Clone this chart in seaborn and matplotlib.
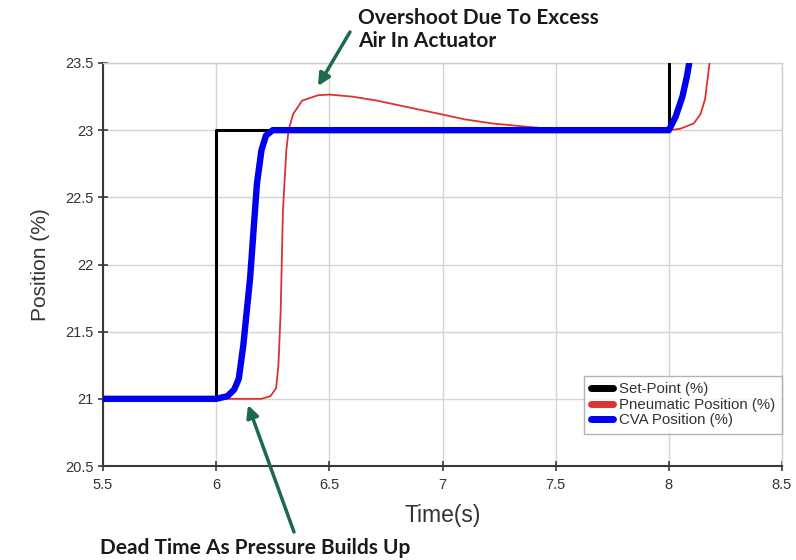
import matplotlib
matplotlib.use("Agg")
import matplotlib.pyplot as plt
import seaborn as sns
import pandas as pd

# ---- data ----
setpoint_t = [5.5, 6.0, 6.0, 8.0, 8.0]
setpoint_v = [21.0, 21.0, 23.0, 23.0, 23.5]

pneumatic_t = [5.5, 6.0, 6.2, 6.24, 6.265, 6.275, 6.285, 6.295, 6.31, 6.32, 6.34,
               6.38, 6.45, 6.5, 6.6, 6.71, 6.85, 6.99, 7.1, 7.22, 7.44, 7.6,
               8.0, 8.05, 8.11, 8.14, 8.16, 8.18]
pneumatic_v = [21.0, 21.0, 21.0, 21.02, 21.08, 21.25, 21.65, 22.4, 22.85, 23.0, 23.12,
               23.22, 23.26, 23.265, 23.25, 23.22, 23.17, 23.12, 23.08, 23.05, 23.015, 23.0,
               23.0, 23.01, 23.05, 23.12, 23.23, 23.5]

cva_t = [5.5, 6.0, 6.05, 6.08, 6.10, 6.12, 6.15, 6.18, 6.20, 6.22, 6.25,
         8.0, 8.03, 8.06, 8.08, 8.09]
cva_v = [21.0, 21.0, 21.02, 21.07, 21.15, 21.4, 21.9, 22.6, 22.85, 22.96, 23.0,
         23.0, 23.1, 23.25, 23.4, 23.5]

series_names = ["Set-Point (%)", "Pneumatic Position (%)", "CVA Position (%)"]
x_ticks = [5.5, 6, 6.5, 7, 7.5, 8, 8.5]
x_ticklabels = ["5.5", "6", "6.5", "7", "7.5", "8", "8.5"]
y_ticks = [20.5, 21, 21.5, 22, 22.5, 23, 23.5]
y_ticklabels = ["20.5", "21", "21.5", "22", "22.5", "23", "23.5"]

annot_top = "Overshoot Due To Excess\nAir In Actuator"
annot_bottom = "Dead Time As Pressure Builds Up"

# ---- build tidy tables ----
df_sp = pd.DataFrame({"t": setpoint_t, "v": setpoint_v})
df_pn = pd.DataFrame({"t": pneumatic_t, "v": pneumatic_v})
df_cva = pd.DataFrame({"t": cva_t, "v": cva_v})

sns.set_theme(style="white")
plt.rcParams["font.family"] = ["Liberation Sans", "DejaVu Sans"]

fig = plt.figure(figsize=(7.96, 5.6), dpi=100)
ax = fig.add_axes([103 / 796, 94 / 560, 679 / 796, 403 / 560])

black = "#000000"
red = "#dc3232"
blue = "#0000ee"
green = "#1d6a48"

sns.lineplot(data=df_sp, x="t", y="v", ax=ax, color=black, lw=2.2,
             estimator=None, sort=False, label=series_names[0], zorder=3)
sns.lineplot(data=df_pn, x="t", y="v", ax=ax, color=red, lw=1.3,
             estimator=None, sort=False, label=series_names[1], zorder=4)
sns.lineplot(data=df_cva, x="t", y="v", ax=ax, color=blue, lw=4.6,
             estimator=None, sort=False, label=series_names[2], zorder=5)

ax.set_xlim(5.5, 8.5)
ax.set_ylim(20.5, 23.5)
ax.set_xticks(x_ticks)
ax.set_xticklabels(x_ticklabels)
ax.set_yticks(y_ticks)
ax.set_yticklabels(y_ticklabels)
ax.grid(True, color="#d4d4d4", lw=1.0)
ax.set_axisbelow(True)

for s in ["left", "bottom"]:
    ax.spines[s].set_color("#3a3a3a")
    ax.spines[s].set_linewidth(1.5)
for s in ["top", "right"]:
    ax.spines[s].set_color("#cfcfcf")
    ax.spines[s].set_linewidth(1.0)

ax.tick_params(axis="both", direction="inout", length=7, width=1.2,
               color="#3a3a3a", labelsize=10.5, labelcolor="#333333", pad=3,
               bottom=True, left=True)
ax.tick_params(axis="x", pad=5)

ax.set_xlabel("Time(s)", fontsize=16.5, color="#333333", labelpad=9)
ax.set_ylabel("Position (%)", fontsize=15, color="#333333", labelpad=11)

leg = ax.legend(loc="lower right", bbox_to_anchor=(1.0, 0.079), fontsize=10.8,
                frameon=True, fancybox=False, handlelength=1.5, handletextpad=0.4,
                borderpad=0.45, labelspacing=0.1, borderaxespad=0.0)
leg.get_frame().set_edgecolor("#a0a0a0")
leg.get_frame().set_linewidth(1.0)
for line in leg.get_lines():
    line.set_linewidth(5)
    line.set_solid_capstyle("round")
for txt in leg.get_texts():
    txt.set_color("#333333")

# ---- annotations ----
ax.annotate("", xy=(318, 560 - 86), xytext=(350, 560 - 32),
            xycoords="figure pixels", textcoords="figure pixels",
            arrowprops=dict(arrowstyle="-|>", color=green, lw=2.5,
                            mutation_scale=18, shrinkA=0, shrinkB=0))
fig.text(358 / 796, 1 - 29.5 / 560, annot_top, fontsize=15, fontweight="bold",
         family=["Lato", "DejaVu Sans"], color="#1a1a1a", ha="left", va="center",
         linespacing=1.2)

ax.annotate("", xy=(248, 560 - 405), xytext=(294, 560 - 532),
            xycoords="figure pixels", textcoords="figure pixels",
            arrowprops=dict(arrowstyle="-|>", color=green, lw=2.5,
                            mutation_scale=18, shrinkA=0, shrinkB=0),
            annotation_clip=False)
fig.text(100 / 796, 1 - 548 / 560, annot_bottom, fontsize=15, fontweight="bold",
         family=["Lato", "DejaVu Sans"], color="#1a1a1a", ha="left", va="center")

fig.savefig("out.png", dpi=100)
